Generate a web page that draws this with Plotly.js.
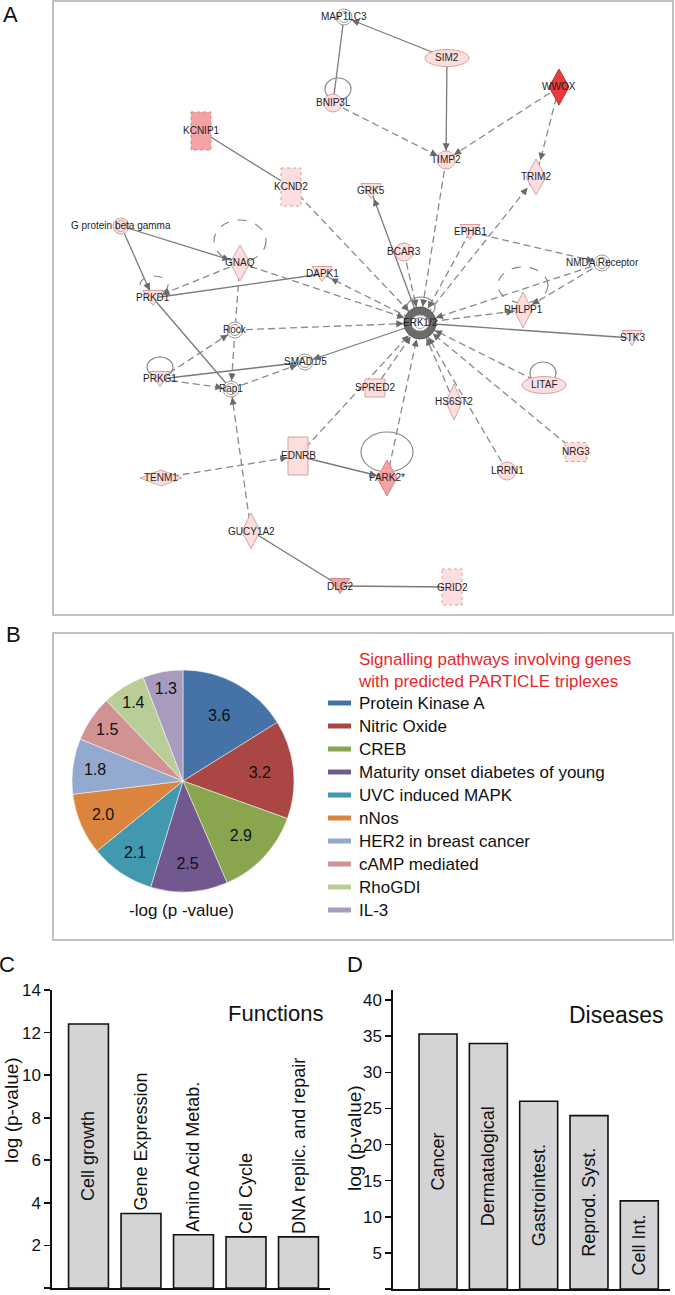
<!DOCTYPE html>
<html><head><meta charset="utf-8">
<script src="https://cdn.plot.ly/plotly-3.0.1.min.js"></script>
<style>html,body{margin:0;padding:0;background:#fff}</style>
</head><body>
<div id="chart" style="width:675px;height:1295px"></div>
<script>
// ---------------- Panel A: network data ----------------
const nodeNames = ['MAP1LC3','SIM2','WWOX','BNIP3L','KCNIP1','TIMP2','TRIM2','KCND2','GRK5','G protein beta gamma','GNAQ','EPHB1','BCAR3','DAPK1','NMDA Receptor','PRKD1','PHLPP1','ERK1/2','Rock','STK3','PRKG1','SMAD1/5','Rap1','SPRED2','LITAF','HS6ST2','EDNRB','TENM1','NRG3','PARK2*','LRRN1','GUCY1A2','DLG2','GRID2'];
const nodeX = [344,447,559,333,201,446,536,291,371,121,240,470,404,322,602,153,523,420,235,632,160,305,231,375,544,454,298,161,576,387,507,251,340,452];
const nodeY = [17,58,87,103,131,160,177,187,191,226,263,232,252,274,263,298,310,323,330,338,379,362,389,388,385,402,456,478,452,478,471,531,586,587];
const nodeKind = ['double','ellipse','diamond','circle','rect','circle','diamond','rect','tri','double','diamond','tri','circle','tri','double','tri','diamond','erk','double','tri','tri','double','double','rect','ellipse','diamond','rect','diamond','rect','diamond','circle','diamond','tri','rect'];
const nodeLevel = ['w','l','r','l','m','l','l','l','l','l','l','l','l','l','w','l','l','g','w','l','l','w','w','l','l','l','l','l','l','m','l','l','m','l'];
const nodeDashed = ['KCNIP1','KCND2','NRG3','GRID2'];
// edges: [from, to, 's' solid | 'd' dashed, arrow at target]
const edges = [
 ['SIM2','MAP1LC3','s',1],['MAP1LC3','BNIP3L','s',0],['SIM2','TIMP2','s',1],
 ['BNIP3L','TIMP2','d',1],['WWOX','TIMP2','d',1],['WWOX','TRIM2','d',1],
 ['KCNIP1','KCND2','s',0],['KCND2','ERK1/2','d',1],['ERK1/2','GRK5','s',1],
 ['TIMP2','ERK1/2','d',1],['ERK1/2','TRIM2','d',1],['EPHB1','ERK1/2','d',1],
 ['EPHB1','NMDA Receptor','d',1],['BCAR3','ERK1/2','d',1],
 ['G protein beta gamma','GNAQ','s',1],['G protein beta gamma','PRKD1','s',1],
 ['GNAQ','PRKD1','d',1],['GNAQ','ERK1/2','d',1],['ERK1/2','DAPK1','d',1],
 ['PRKD1','DAPK1','s',0],['GNAQ','Rock','d',0],['Rock','Rap1','d',1],
 ['Rock','ERK1/2','d',1],['PRKD1','Rap1','s',0],['PRKG1','Rock','d',1],
 ['PRKG1','Rap1','d',1],['PRKG1','SMAD1/5','s',0],['Rap1','SMAD1/5','d',1],
 ['ERK1/2','SMAD1/5','s',1],['SPRED2','ERK1/2','d',1],['EDNRB','ERK1/2','d',1],
 ['NMDA Receptor','PHLPP1','d',1],['NMDA Receptor','ERK1/2','d',1],
 ['ERK1/2','PHLPP1','d',1],['ERK1/2','STK3','s',0],['LITAF','ERK1/2','d',1],
 ['HS6ST2','ERK1/2','d',1],['LRRN1','ERK1/2','d',1],['NRG3','ERK1/2','d',1],
 ['PARK2*','ERK1/2','d',1],['TENM1','EDNRB','d',1],['EDNRB','PARK2*','s',1],
 ['GUCY1A2','Rap1','d',1],['GUCY1A2','DLG2','s',0],['DLG2','GRID2','s',0]
];
// self loops: [node, style]
const loopNodes = ['BNIP3L','GNAQ','PRKD1','PHLPP1','PRKG1','LITAF','PARK2*','ERK1/2'];
const loopStyle = ['s','d','d','d','s','s','s','s'];

// ---------------- Panel B: pie data ----------------
const pathways = ['Protein Kinase A','Nitric Oxide','CREB','Maturity onset diabetes of young','UVC induced MAPK','nNos','HER2 in breast cancer','cAMP mediated','RhoGDI','IL-3'];
const pathwayValues = [3.6,3.2,2.9,2.5,2.1,2.0,1.8,1.5,1.4,1.3];

// ---------------- Panel C / D: bar data ----------------
const functionCats = ['Cell growth','Gene Expression','Amino Acid Metab.','Cell Cycle','DNA replic. and repair'];
const functionVals = [12.4,3.5,2.5,2.4,2.4];
const diseaseCats = ['Cancer','Dermatalogical','Gastrointest.','Reprod. Syst.','Cell Int.'];
const diseaseVals = [35.3,34.0,26.0,24.0,12.2];

// ---------------- styles ----------------
const W = 675, H = 1295;
const SANS = '"Liberation Sans", Arial, Helvetica, sans-serif';
const NARROW = '"Liberation Sans Narrow", "Arial Narrow", "Liberation Sans", Arial, sans-serif';
const pieColors = ['#4572a7','#aa4643','#89a54e','#71588f','#4198af','#db843d','#93a9cf','#d19392','#b9cd96','#a99bbd'];
const fillFor = {w:'#ffffff', l:'#fcdede', m:'#f4a2a4', r:'#e8393b', g:'#6b6b6b'};
const strokeFor = {w:'#9a9a9a', l:'#d6a3a3', m:'#d08a8c', r:'#c43030', g:'#555'};
const sizeFor = {double:[8,8], circle:[9,9], ellipse:[22,8.5], diamond:[10,18], rect:[10,19], tri:[10,7.5], erk:[16,16]};
const sizeOverride = {'TENM1':[21,8],'SPRED2':[10,9],'NRG3':[11,9.5],'GRID2':[10,18],'HS6ST2':[8,18],'PHLPP1':[9,18],'GUCY1A2':[9,18],'BNIP3L':[9,9]};
const loopGeom = {'BNIP3L':[5,-14,13,11],'GNAQ':[0,-22,26,21],'PRKD1':[1,-13,14,9],'PHLPP1':[0,-25,25,18],'PRKG1':[0,-12,13,10],'LITAF':[-1,-12,13,11],'PARK2*':[0,-26,26,20],'ERK1/2':[1,-16,14,10]};

const px = v => v / W;
const py = v => 1 - v / H;
const idx = {};
nodeNames.forEach((n,i)=> idx[n]=i);
function dims(i){ const n=nodeNames[i]; return sizeOverride[n] || sizeFor[nodeKind[i]]; }

const traces = [];
const shapes = [];
const annotations = [];

// edges as line traces
const solid = {x:[],y:[]}, dashed = {x:[],y:[]};
edges.forEach(e=>{
  const a=idx[e[0]], b=idx[e[1]];
  const t = e[2]==='s'? solid : dashed;
  t.x.push(nodeX[a], nodeX[b], null); t.y.push(nodeY[a], nodeY[b], null);
});
traces.push({type:'scatter',mode:'lines',x:solid.x,y:solid.y,xaxis:'x',yaxis:'y',line:{color:'#7a7a7a',width:1.3},hoverinfo:'skip',showlegend:false});
traces.push({type:'scatter',mode:'lines',x:dashed.x,y:dashed.y,xaxis:'x',yaxis:'y',line:{color:'#8a8a8a',width:1.3,dash:'7px,4px'},hoverinfo:'skip',showlegend:false});

// self loops
loopNodes.forEach((n,k)=>{
  const i=idx[n], g=loopGeom[n];
  const cx=nodeX[i]+g[0], cy=nodeY[i]+g[1];
  shapes.push({type:'circle',xref:'x',yref:'y',x0:cx-g[2],x1:cx+g[2],y0:cy-g[3],y1:cy+g[3],
    line:{color:'#888',width:1.2,dash:loopStyle[k]==='d'?'dash':'solid'},fillcolor:'rgba(0,0,0,0)',layer:'above'});
});

// nodes
nodeNames.forEach((n,i)=>{
  const x=nodeX[i], y=nodeY[i], [hw,hh]=dims(i), k=nodeKind[i], lv=nodeLevel[i];
  const line={color:strokeFor[lv],width:1,dash:nodeDashed.includes(n)?'dot':'solid'};
  const fill=fillFor[lv];
  const base={xref:'x',yref:'y',line,fillcolor:fill,layer:'above'};
  if(k==='circle'||k==='ellipse'){
    shapes.push(Object.assign({type:'circle',x0:x-hw,x1:x+hw,y0:y-hh,y1:y+hh},base));
  } else if(k==='double'){
    shapes.push(Object.assign({type:'circle',x0:x-hw,x1:x+hw,y0:y-hh,y1:y+hh},base));
    shapes.push({type:'circle',xref:'x',yref:'y',x0:x-hw+2.5,x1:x+hw-2.5,y0:y-hh+2.5,y1:y+hh-2.5,line:{color:strokeFor[lv],width:1},fillcolor:'rgba(0,0,0,0)',layer:'above'});
  } else if(k==='erk'){
    shapes.push({type:'circle',xref:'x',yref:'y',x0:x-hw,x1:x+hw,y0:y-hh,y1:y+hh,line:{color:'#555',width:1},fillcolor:'#6b6b6b',layer:'above'});
    shapes.push({type:'circle',xref:'x',yref:'y',x0:x-9,x1:x+9,y0:y-8,y1:y+8,line:{color:'#999',width:1},fillcolor:'#ffffff',layer:'above'});
    shapes.push({type:'circle',xref:'x',yref:'y',x0:x-6,x1:x+6,y0:y-5.5,y1:y+5.5,line:{color:'#aaa',width:1},fillcolor:'#ffffff',layer:'above'});
  } else if(k==='diamond'){
    shapes.push(Object.assign({type:'path',path:`M${x},${y-hh} L${x+hw},${y} L${x},${y+hh} L${x-hw},${y} Z`},base));
  } else if(k==='tri'){
    shapes.push(Object.assign({type:'path',path:`M${x-hw},${y-hh} L${x+hw},${y-hh} L${x},${y+hh} Z`},base));
  } else if(k==='rect'){
    shapes.push(Object.assign({type:'rect',x0:x-hw,x1:x+hw,y0:y-hh,y1:y+hh},base));
  }
  annotations.push({xref:'x',yref:'y',x:x,y:y,text:n,showarrow:false,xanchor:'center',yanchor:'middle',
    font:{family:SANS,size:10,color:'#1e1e1e'}});
});

// arrowheads
edges.forEach(e=>{
  if(!e[3]) return;
  const a=idx[e[0]], b=idx[e[1]];
  let ux=nodeX[b]-nodeX[a], uy=nodeY[b]-nodeY[a];
  const L=Math.hypot(ux,uy); ux/=L; uy/=L;
  const [hw,hh]=dims(b);
  const d=1/Math.sqrt((ux/hw)**2+(uy/hh)**2);
  const tx=nodeX[b]-ux*(d+0.5), ty=nodeY[b]-uy*(d+0.5);
  annotations.push({xref:'x',yref:'y',axref:'x',ayref:'y',x:tx,y:ty,ax:tx-ux*9,ay:ty-uy*9,text:'',
    showarrow:true,arrowhead:2,arrowsize:1.3,arrowwidth:1.1,arrowcolor:'#6a6a6a'});
});

// ---------------- Panel B: pie ----------------
traces.push({type:'pie',values:pathwayValues,labels:pathways,text:pathwayValues.map(v=>v.toFixed(1)),
  textinfo:'text',textposition:'inside',insidetextorientation:'horizontal',sort:false,direction:'clockwise',rotation:0,
  marker:{colors:pieColors,line:{color:'#ffffff',width:0.5}},textfont:{family:SANS,size:16,color:'#111'},
  domain:{x:[px(72),px(294)],y:[py(892),py(670)]},showlegend:false,hoverinfo:'label+value'});
annotations.push({xref:'paper',yref:'paper',x:px(182),y:py(910),text:'-log (p -value)',showarrow:false,
  xanchor:'center',yanchor:'middle',font:{family:SANS,size:17,color:'#111'}});
annotations.push({xref:'paper',yref:'paper',x:px(356),y:py(648),text:'Signalling pathways involving genes<br>with predicted PARTICLE triplexes',
  showarrow:false,xanchor:'left',yanchor:'top',align:'left',font:{family:SANS,size:17,color:'#e8262b'}});
pathways.forEach((p,i)=>{
  const yy=703+i*23;
  shapes.push({type:'line',xref:'paper',yref:'paper',x0:px(328),x1:px(351),y0:py(yy),y1:py(yy),line:{color:pieColors[i],width:5}});
  annotations.push({xref:'paper',yref:'paper',x:px(357),y:py(yy),text:p,showarrow:false,xanchor:'left',yanchor:'middle',
    font:{family:SANS,size:17,color:'#111'}});
});

// ---------------- Panel C / D: bars ----------------
traces.push({type:'bar',x:functionCats,y:functionVals,xaxis:'x3',yaxis:'y3',width:0.76,
  marker:{color:'#d4d4d6',line:{color:'#111',width:1.6}},text:functionCats,
  textposition:['inside','outside','outside','outside','outside'],textangle:-90,insidetextanchor:'middle',
  constraintext:'none',cliponaxis:false,textfont:{family:NARROW,size:18,color:'#111'},showlegend:false,hoverinfo:'x+y'});
traces.push({type:'bar',x:diseaseCats,y:diseaseVals,xaxis:'x4',yaxis:'y4',width:0.755,
  marker:{color:'#d4d4d6',line:{color:'#111',width:1.6}},text:diseaseCats,
  textposition:'inside',textangle:-90,insidetextanchor:'middle',
  constraintext:'none',cliponaxis:false,textfont:{family:NARROW,size:18,color:'#111'},showlegend:false,hoverinfo:'x+y'});

function yax(domain, range, dtick){
  return {domain, range, dtick, tick0:0, showgrid:false, zeroline:false, showline:true, linecolor:'#111', linewidth:1.6,
    ticks:'outside', ticklen:6, tickwidth:1.6, tickcolor:'#111', tickfont:{family:NARROW,size:17,color:'#111'}, fixedrange:true};
}
function xax(domain, range, anchor){
  return {domain, range, anchor, type:'category', showgrid:false, zeroline:false, showline:true, linecolor:'#111', linewidth:1.6,
    ticks:'', showticklabels:false, fixedrange:true};
}

annotations.push({xref:'paper',yref:'paper',x:px(11),y:py(1110),text:'log (p-value)',textangle:-90,showarrow:false,
  xanchor:'center',yanchor:'middle',font:{family:NARROW,size:19,color:'#111'}});
annotations.push({xref:'paper',yref:'paper',x:px(354),y:py(1138),text:'log (p-value)',textangle:-90,showarrow:false,
  xanchor:'center',yanchor:'middle',font:{family:NARROW,size:19,color:'#111'}});
annotations.push({xref:'paper',yref:'paper',x:px(275),y:py(1013),text:'Functions',showarrow:false,
  xanchor:'center',yanchor:'middle',font:{family:NARROW,size:22,color:'#111'}});
annotations.push({xref:'paper',yref:'paper',x:px(616),y:py(1015),text:'Diseases',showarrow:false,
  xanchor:'center',yanchor:'middle',font:{family:NARROW,size:23,color:'#111'}});

// panel letters
[['A',11,15],['B',13,634],['C',7,965],['D',355,965]].forEach(l=>{
  annotations.push({xref:'paper',yref:'paper',x:px(l[1]),y:py(l[2]),text:l[0],showarrow:false,xanchor:'center',yanchor:'middle',
    font:{family:SANS,size:22,color:'#111'}});
});

// panel frames
shapes.push({type:'rect',xref:'paper',yref:'paper',x0:px(53),x1:px(673),y0:py(615),y1:py(1),line:{color:'#c0c0c0',width:2},fillcolor:'rgba(0,0,0,0)',layer:'below'});
shapes.push({type:'rect',xref:'paper',yref:'paper',x0:px(53),x1:px(673),y0:py(940),y1:py(633),line:{color:'#c0c0c0',width:2},fillcolor:'rgba(0,0,0,0)',layer:'below'});

const layout = {
  width:W, height:H, margin:{l:0,r:0,t:0,b:0}, paper_bgcolor:'#fff', plot_bgcolor:'rgba(0,0,0,0)',
  showlegend:false, shapes, annotations,
  xaxis:{domain:[px(53),px(673)],range:[53,673],visible:false,fixedrange:true},
  yaxis:{domain:[py(615),py(1)],range:[615,1],visible:false,fixedrange:true},
  xaxis3:xax([px(52),px(330)],[-0.695,4.6],'y3'),
  yaxis3:Object.assign(yax([py(1288),py(990)],[0,14],2),{anchor:'x3'}),
  xaxis4:xax([px(393),px(670)],[-0.895,4.61],'y4'),
  yaxis4:Object.assign(yax([py(1289),py(990)],[0,41.4],5),{anchor:'x4'}),
  bargap:0.2
};
Plotly.newPlot('chart', traces, layout, {displayModeBar:false, staticPlot:true});
</script>
</body></html>
